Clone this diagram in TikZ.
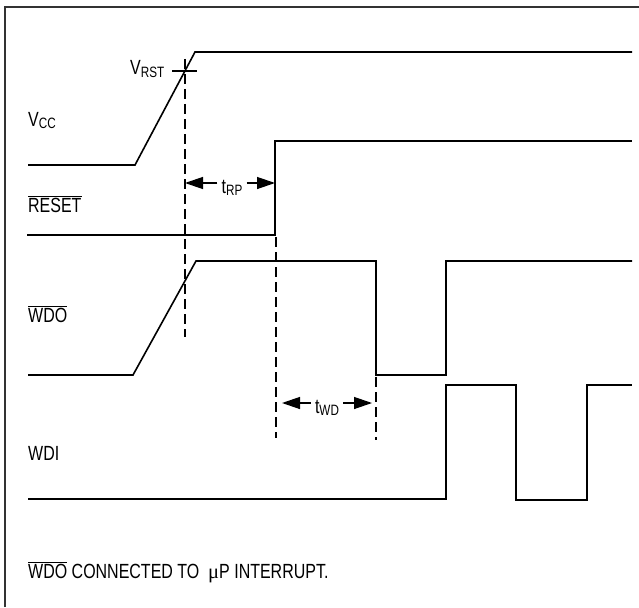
\documentclass[tikz,border=0pt]{standalone}
\usepackage{fontspec}
\setmainfont[FakeStretch=0.78]{Liberation Sans}
\newfontfamily\mufont{Liberation Serif}
\usetikzlibrary{arrows.meta}

\newcommand{\lowsub}[1]{\raisebox{-2.5pt}{\fontsize{15}{15}\selectfont #1}}
\newcommand{\ovl}[1]{$\overline{\mbox{#1}}$}

\begin{document}
\begin{tikzpicture}[x=1pt, y=-1pt,
		signal/.style={line width=1.6pt, line join=miter},
		marker/.style={line width=1.3pt, dash pattern=on 10pt off 5pt},
		timing/.style={line width=1.3pt, -{Triangle[length=18pt, width=12pt]}},
		lbl/.style={anchor=base west, inner sep=0pt, font=\fontsize{20.5}{24}\selectfont},
		span/.style={anchor=base, inner xsep=4pt, inner ysep=0pt, font=\fontsize{20.5}{24}\selectfont}]
	 		\useasboundingbox (0,0) rectangle (639,607);
	 		% frame
	 		\draw[line width=2.6pt, black!80] (5,607) -- (5,7) -- (639,7);
	 		% Vcc
	 		\draw[signal] (28,165) -- (135,165) -- (195,52) -- (632,52);
	 		% reset threshold
	 		\draw[signal] (172,71) -- (197,71);
	 		% RESET
	 		\draw[signal] (27,235) -- (275,235) -- (275,141) -- (632,141);
	 		% WDO
	 		\draw[signal] (28,375) -- (133,375) -- (196,261) -- (376,261) -- (376,375) -- (446,375) -- (446,261) -- (632,261);
	 		% WDI
	 		\draw[signal] (28,499) -- (446,499) -- (446,385) -- (516,385) -- (516,500) -- (587,500) -- (587,385) -- (632,385);
	 		% dashed markers
	 		\coordinate (rst top) at (185,59);
	 		\coordinate (rst bot) at (185,337);
	 		\coordinate (rp top) at (276,237);
	 		\coordinate (rp bot) at (276,438);
	 		\coordinate (wd top) at (376,377);
	 		\coordinate (wd bot) at (376,440);
	 		\draw[marker] (rst top) -- (rst bot);
	 		\draw[marker] (rp top) -- (rp bot);
	 		\draw[marker] (wd top) -- (wd bot);
	 		% tRP
	 		\coordinate (rp left) at (185,183);
	 		\coordinate (rp right) at (275,183);
	 		\node[span] (trp) at (232,193) {t\lowsub{RP}};
	 		\draw[timing] (trp.west |- rp left) -- (rp left);
	 		\draw[timing] (trp.east |- rp right) -- (rp right);
	 		% tWD
	 		\coordinate (wd left) at (282,403);
	 		\coordinate (wd right) at (372,403);
	 		\node[span] (twd) at (327,413) {t\lowsub{WD}};
	 		\draw[timing] (twd.west |- wd left) -- (wd left);
	 		\draw[timing] (twd.east |- wd right) -- (wd right);
	 		% labels
	 		\node[lbl] (vrst) at (130,75) {V\lowsub{RST}};
	 		\node[lbl] (vcc) at (28,126) {V\lowsub{CC}};
	 		\node[lbl] (reset) at (28,212) {\ovl{RESET}};
	 		\node[lbl] (wdo) at (28,322) {\ovl{WDO}};
	 		\node[lbl] (wdi) at (28,460) {WDI};
	 		\node[lbl] (note) at (28,578) {\ovl{WDO} CONNECTED TO \ {\mufont μ}P INTERRUPT.};
 		\end{tikzpicture}
\end{document}
